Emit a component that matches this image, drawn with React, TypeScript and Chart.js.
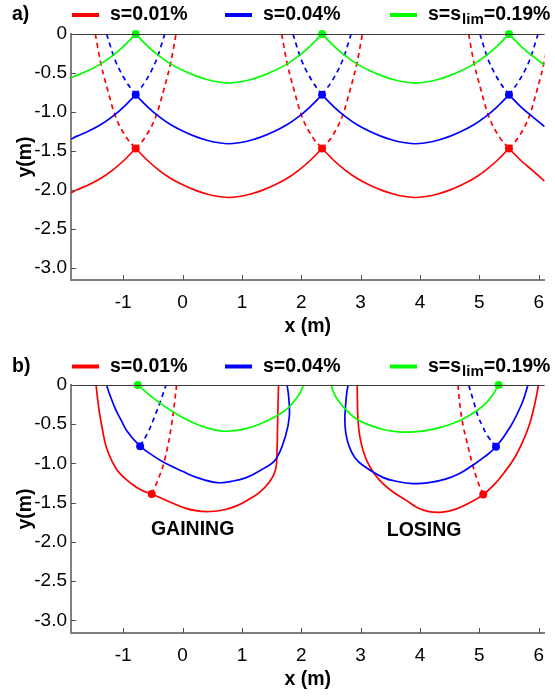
import React, { useEffect, useRef } from "react";
import { Chart, registerables } from "chart.js";
Chart.register(...registerables);

type P = [number, number];

// ---------- axes ----------
const xTicks = [-1, 0, 1, 2, 3, 4, 5, 6];
const yTicks = [0, -0.5, -1, -1.5, -2, -2.5, -3];
const X_MIN = -1.88;
const X_MAX = 6.1;
const Y_MIN = -3.16;
const Y_MAX = 0;

// ---------- legend ----------
const seriesNames = ["s=0.01%", "s=0.04%", "s=s|lim|=0.19%"];
const seriesColors = ["#ff0000", "#0000ff", "#00ff00"];

// ---------- panel a) ----------
const aX = [
  -1.88, -1.79, -1.59, -1.39, -1.19, -0.99, -0.79,
  -0.59, -0.39, -0.19, 0.01, 0.21, 0.41, 0.61, 0.78, 0.95, 1.15, 1.35, 1.55, 1.75, 1.95, 2.15, 2.35,
  2.55, 2.75, 2.95, 3.15, 3.35, 3.55, 3.75, 3.92, 4.1, 4.3, 4.5, 4.7, 4.9, 5.1, 5.3, 5.5,
  5.7, 5.9, 6.1,
];
const aGreenY = [
  -0.56, -0.535, -0.47, -0.39, -0.285, -0.155, 0,
  -0.155, -0.285, -0.39, -0.47, -0.535, -0.585, -0.617, -0.63, -0.617, -0.585, -0.535, -0.47, -0.39, -0.285, -0.155, 0,
  -0.155, -0.285, -0.39, -0.47, -0.535, -0.585, -0.617, -0.63, -0.617, -0.585, -0.535, -0.47, -0.39, -0.285, -0.155, 0,
  -0.155, -0.285, -0.4,
];
const aBlueY = [
  -1.35, -1.315, -1.25, -1.17, -1.065, -0.935, -0.78,
  -0.935, -1.065, -1.17, -1.25, -1.315, -1.365, -1.397, -1.41, -1.397, -1.365, -1.315, -1.25, -1.17, -1.065, -0.935, -0.78,
  -0.935, -1.065, -1.17, -1.25, -1.315, -1.365, -1.397, -1.41, -1.397, -1.365, -1.315, -1.25, -1.17, -1.065, -0.935, -0.78,
  -0.935, -1.065, -1.19,
];
const aRedY = [
  -2.04, -2.005, -1.94, -1.86, -1.755, -1.625, -1.47,
  -1.625, -1.755, -1.86, -1.94, -2.005, -2.055, -2.087, -2.1, -2.087, -2.055, -2.005, -1.94, -1.86, -1.755, -1.625, -1.47,
  -1.625, -1.755, -1.86, -1.94, -2.005, -2.055, -2.087, -2.1, -2.087, -2.055, -2.005, -1.94, -1.86, -1.755, -1.625, -1.47,
  -1.625, -1.755, -1.89,
];
const aCuspX = [-0.79, 2.35, 5.5];
const aCuspY = [-1.47, -0.78, 0]; // red, blue, green
const aBlueDashDx = [0, 0.17, 0.35, 0.49];
const aBlueDashY = [-0.78, -0.6, -0.33, 0];
const aRedDashDx = [0, 0.165, 0.34, 0.49, 0.59, 0.68];
const aRedDashY = [-1.47, -1.32, -1.06, -0.67, -0.37, 0];

// ---------- panel b) ----------
const bGreenGain: P[] = [
  [-0.754, 0], [-0.53, -0.145], [-0.302, -0.272], [-0.03, -0.4], [0.248, -0.504], [0.5, -0.565],
  [0.743, -0.589], [1.05, -0.56], [1.348, -0.482], [1.568, -0.4], [1.766, -0.301], [1.914, -0.174],
  [2.0, -0.072], [2.035, 0],
];
const bBlueGain: P[] = [
  [-1.282, 0], [-1.216, -0.145], [-1.127, -0.313], [-1.031, -0.455], [-0.935, -0.588], [-0.715, -0.779],
  [-0.5, -0.9], [-0.303, -0.99], [0.0, -1.1], [0.248, -1.18], [0.578, -1.244], [0.825, -1.227],
  [1.073, -1.18], [1.33, -1.08], [1.568, -0.948], [1.733, -0.652], [1.799, -0.398], [1.787, -0.145], [1.76, 0],
];
const bRedGain: P[] = [
  [-1.458, 0], [-1.43, -0.186], [-1.4, -0.356], [-1.35, -0.567], [-1.29, -0.779], [-1.19, -0.969],
  [-1.07, -1.117], [-0.85, -1.265], [-0.69, -1.341], [-0.52, -1.39], [-0.193, -1.497], [0.03, -1.565],
  [0.248, -1.604], [0.467, -1.612], [0.7, -1.59], [0.908, -1.54], [1.1, -1.465], [1.292, -1.371],
  [1.46, -1.24], [1.568, -1.075], [1.592, -0.82], [1.601, -0.5], [1.61, -0.2], [1.617, 0],
];
const bBlueGainDash: P[] = [[-0.715, -0.779], [-0.58, -0.6], [-0.47, -0.4], [-0.37, -0.2], [-0.28, 0]];
const bRedGainDash: P[] = [[-0.52, -1.39], [-0.41, -1.2], [-0.3, -0.95], [-0.19, -0.53], [-0.1, 0]];

const bGreenLose: P[] = [
  [2.503, 0], [2.545, -0.095], [2.612, -0.187], [2.77, -0.33], [2.943, -0.44], [3.16, -0.515],
  [3.383, -0.567], [3.6, -0.593], [3.823, -0.601], [4.07, -0.585], [4.318, -0.546], [4.55, -0.49],
  [4.758, -0.419], [4.93, -0.34], [5.088, -0.25], [5.22, -0.13], [5.325, 0],
];
const bBlueLose: P[] = [
  [2.789, 0], [2.765, -0.11], [2.75, -0.229], [2.734, -0.44], [2.752, -0.62], [2.805, -0.779],
  [2.904, -0.927], [3.053, -1.033], [3.383, -1.18], [3.62, -1.23], [3.878, -1.256], [4.15, -1.245],
  [4.428, -1.199], [4.66, -1.13], [4.868, -1.033], [5.08, -0.92], [5.281, -0.787], [5.528, -0.525],
  [5.721, -0.229], [5.82, 0],
];
const bRedLose: P[] = [
  [2.943, 0], [2.946, -0.2], [2.955, -0.44], [2.985, -0.65], [3.04, -0.83], [3.12, -0.99], [3.23, -1.13],
  [3.38, -1.26], [3.56, -1.37], [3.77, -1.47], [3.95, -1.56], [4.153, -1.613], [4.38, -1.62],
  [4.593, -1.585], [4.83, -1.505], [5.066, -1.396], [5.25, -1.27], [5.418, -1.117], [5.6, -0.92],
  [5.748, -0.694], [5.85, -0.49], [5.913, -0.313], [5.96, -0.15], [5.996, 0],
];
const bBlueLoseDash: P[] = [[5.281, -0.787], [5.14, -0.65], [5.05, -0.52], [4.98, -0.4], [4.9, -0.2], [4.82, 0]];
const bRedLoseDash: P[] = [[5.066, -1.396], [4.96, -1.2], [4.87, -0.97], [4.79, -0.72], [4.73, -0.53], [4.68, -0.3], [4.64, 0]];
const bDotsRed: P[] = [[-0.52, -1.39], [5.066, -1.396]];
const bDotsBlue: P[] = [[-0.715, -0.779], [5.281, -0.787]];
const bDotsGreen: P[] = [[-0.754, 0], [5.325, 0]];
const bNotes: { text: string; x: number; y: number }[] = [
  { text: "GAINING", x: 0.17, y: -1.84 },
  { text: "LOSING", x: 4.07, y: -1.85 },
];

// ---------- helpers ----------
const FONT = '"Liberation Sans", Arial, Helvetica, sans-serif';
const RED = seriesColors[0];
const BLUE = seriesColors[1];
const GREEN = seriesColors[2];

function lineDs(pts: P[], color: string, dashed = false, monotone = false) {
  return {
    data: pts.map(([x, y]) => ({ x, y })),
    showLine: true,
    borderColor: color,
    backgroundColor: color,
    borderWidth: 1.7,
    borderDash: dashed ? [5, 4] : [],
    pointRadius: 0,
    pointHoverRadius: 0,
    tension: 0.4,
    cubicInterpolationMode: monotone ? "monotone" : "default",
    fill: false,
  };
}
function dotDs(pts: P[], color: string) {
  return {
    data: pts.map(([x, y]) => ({ x, y })),
    showLine: false,
    pointRadius: 4,
    pointBorderWidth: 0,
    pointBackgroundColor: color,
    pointBorderColor: color,
    clip: false as any,
  };
}
function splitArcs(xs: number[], ys: number[], cusps: number[]): P[][] {
  const arcs: P[][] = [];
  let cur: P[] = [];
  xs.forEach((x, i) => {
    cur.push([x, ys[i]]);
    if (cusps.includes(x)) {
      arcs.push(cur);
      cur = [[x, ys[i]]];
    }
  });
  if (cur.length > 1) arcs.push(cur);
  return arcs;
}
function vBranches(cusps: number[], dx: number[], dy: number[]): P[][] {
  const out: P[][] = [];
  cusps.forEach((c) => {
    out.push(dx.map((d, i) => [c - d, dy[i]] as P).reverse());
    out.push(dx.map((d, i) => [c + d, dy[i]] as P));
  });
  return out;
}

function datasetsA() {
  const ds: any[] = [];
  ds.push(dotDs(aCuspX.map((c) => [c, aCuspY[0]] as P), RED));
  ds.push(dotDs(aCuspX.map((c) => [c, aCuspY[1]] as P), BLUE));
  ds.push(dotDs(aCuspX.map((c) => [c, aCuspY[2]] as P), GREEN));
  splitArcs(aX, aGreenY, aCuspX).forEach((a) => ds.push(lineDs(a, GREEN, false, true)));
  splitArcs(aX, aBlueY, aCuspX).forEach((a) => ds.push(lineDs(a, BLUE, false, true)));
  splitArcs(aX, aRedY, aCuspX).forEach((a) => ds.push(lineDs(a, RED, false, true)));
  vBranches(aCuspX, aBlueDashDx, aBlueDashY).forEach((a) => ds.push(lineDs(a, BLUE, true, true)));
  vBranches(aCuspX, aRedDashDx, aRedDashY).forEach((a) => ds.push(lineDs(a, RED, true, true)));
  return ds;
}
function datasetsB() {
  return [
    dotDs(bDotsRed, RED),
    dotDs(bDotsBlue, BLUE),
    dotDs(bDotsGreen, GREEN),
    lineDs(bGreenGain, GREEN),
    lineDs(bGreenLose, GREEN),
    lineDs(bBlueGain, BLUE),
    lineDs(bBlueLose, BLUE),
    lineDs(bRedGain, RED),
    lineDs(bRedLose, RED),
    lineDs(bBlueGainDash, BLUE, true),
    lineDs(bRedGainDash, RED, true),
    lineDs(bBlueLoseDash, BLUE, true),
    lineDs(bRedLoseDash, RED, true),
  ];
}

const overlayPlugin = {
  id: "overlay",
  afterDraw(chart: any) {
    const { ctx, chartArea: ca, scales } = chart;
    const o = chart.options.plugins.overlay || {};
    ctx.save();
    // top frame line
    ctx.strokeStyle = "#3a3a3a";
    ctx.lineWidth = 1;
    ctx.beginPath();
    ctx.moveTo(ca.left, ca.top + 0.5);
    ctx.lineTo(ca.right, ca.top + 0.5);
    ctx.stroke();
    // inward tick marks
    ctx.strokeStyle = "#505050";
    ctx.lineWidth = 1;
    ctx.beginPath();
    xTicks.forEach((v) => {
      const px = Math.round(scales.x.getPixelForValue(v)) + 0.5;
      ctx.moveTo(px, ca.bottom);
      ctx.lineTo(px, ca.bottom - 5);
    });
    yTicks.forEach((v) => {
      const py = Math.round(scales.y.getPixelForValue(v)) + 0.5;
      ctx.moveTo(ca.left, py);
      ctx.lineTo(ca.left + 5, py);
    });
    ctx.stroke();

    const ly = o.legendY ?? 15;
    const bold = (s: number) => `bold ${s}px ${FONT}`;
    ctx.fillStyle = "#000";
    ctx.textBaseline = "middle";
    ctx.textAlign = "left";
    ctx.font = bold(19.5);
    ctx.fillText(o.letter || "", 12, ly);

    // legend
    const lineX = [72, 225, 390];
    const textX = [110, 263, 428];
    seriesNames.forEach((name, i) => {
      ctx.strokeStyle = seriesColors[i];
      ctx.lineWidth = 4;
      ctx.setLineDash([]);
      ctx.beginPath();
      ctx.moveTo(lineX[i], ly);
      ctx.lineTo(lineX[i] + 27, ly);
      ctx.stroke();
      ctx.fillStyle = "#000";
      const parts = name.split("|");
      let x = textX[i];
      parts.forEach((p, k) => {
        const sub = k % 2 === 1;
        ctx.font = sub ? bold(15) : bold(19.5);
        ctx.fillText(p, x, sub ? ly + 5 : ly);
        x += ctx.measureText(p).width + (sub ? 0 : 1);
      });
    });

    // notes
    (o.notes || []).forEach((n: any) => {
      ctx.font = bold(19.5);
      ctx.textAlign = "center";
      ctx.fillText(n.text, scales.x.getPixelForValue(n.x), scales.y.getPixelForValue(n.y));
    });
    ctx.restore();
  },
};

type PanelProps = {
  H: number;
  top: number;
  plotTop: number;
  plotBottom: number;
  xTitleCenter: number;
  legendY: number;
  letter: string;
  datasets: () => any[];
  notes?: { text: string; x: number; y: number }[];
};

function Panel(p: PanelProps) {
  const ref = useRef<HTMLCanvasElement | null>(null);
  useEffect(() => {
    if (!ref.current) return;
    const xTitlePad = p.H - p.xTitleCenter - (19.5 * 1.2) / 2;
    const chart = new Chart(ref.current, {
      type: "scatter",
      data: { datasets: p.datasets() },
      plugins: [overlayPlugin],
      options: {
        responsive: false,
        animation: false,
        devicePixelRatio: 1,
        events: [],
        layout: { padding: { top: p.plotTop, left: 0, right: 1, bottom: 0 } },
        elements: { line: { capBezierPoints: false } as any },
        plugins: {
          legend: { display: false },
          tooltip: { enabled: false },
          overlay: { letter: p.letter, legendY: p.legendY, notes: p.notes || [] },
        } as any,
        scales: {
          x: {
            type: "linear",
            min: X_MIN,
            max: X_MAX,
            grid: { display: false, drawTicks: false },
            border: { display: true, color: "#808080", width: 2 },
            ticks: {
              padding: 11,
              color: "#000",
              font: { family: FONT, size: 19 },
              maxRotation: 0,
              autoSkip: false,
              includeBounds: false,
              callback: (v: any) => String(v),
            },
            afterBuildTicks: (s: any) => {
              s.ticks = xTicks.map((v) => ({ value: v }));
            },
            afterFit: (s: any) => {
              s.height = p.H - p.plotBottom;
            },
            title: {
              display: true,
              text: "x (m)",
              color: "#000",
              font: { family: FONT, size: 19.5, weight: "bold" },
              padding: { top: 0, bottom: xTitlePad },
            },
          } as any,
          y: {
            type: "linear",
            min: Y_MIN,
            max: Y_MAX,
            grid: { display: false, drawTicks: false },
            border: { display: true, color: "#808080", width: 2 },
            ticks: {
              padding: 4,
              color: "#000",
              font: { family: FONT, size: 19 },
              autoSkip: false,
              includeBounds: false,
              callback: (v: any) => (v === 0 ? "0" : Number(v).toFixed(1)),
            },
            afterBuildTicks: (s: any) => {
              s.ticks = yTicks.map((v) => ({ value: v }));
            },
            afterFit: (s: any) => {
              s.width = 71;
            },
            title: {
              display: true,
              text: "y(m)",
              color: "#000",
              font: { family: FONT, size: 19.5, weight: "bold" },
              padding: { top: 14, bottom: 0 },
            },
          } as any,
        },
      },
    });
    return () => chart.destroy();
  }, []);
  return (
    <canvas
      ref={ref}
      width={555}
      height={p.H}
      style={{ position: "absolute", left: 0, top: p.top, width: 555, height: p.H }}
    />
  );
}

export default function App() {
  return (
    <div style={{ position: "absolute", left: 0, top: 0, width: 555, height: 697, background: "#fff", overflow: "hidden" }}>
      <Panel H={340} top={0} plotTop={34} plotBottom={280} xTitleCenter={326.7} legendY={15} letter="a)" datasets={datasetsA} />
      <Panel
        H={346}
        top={351}
        plotTop={34}
        plotBottom={282}
        xTitleCenter={329}
        legendY={15.5}
        letter="b)"
        datasets={datasetsB}
        notes={bNotes}
      />
    </div>
  );
}
